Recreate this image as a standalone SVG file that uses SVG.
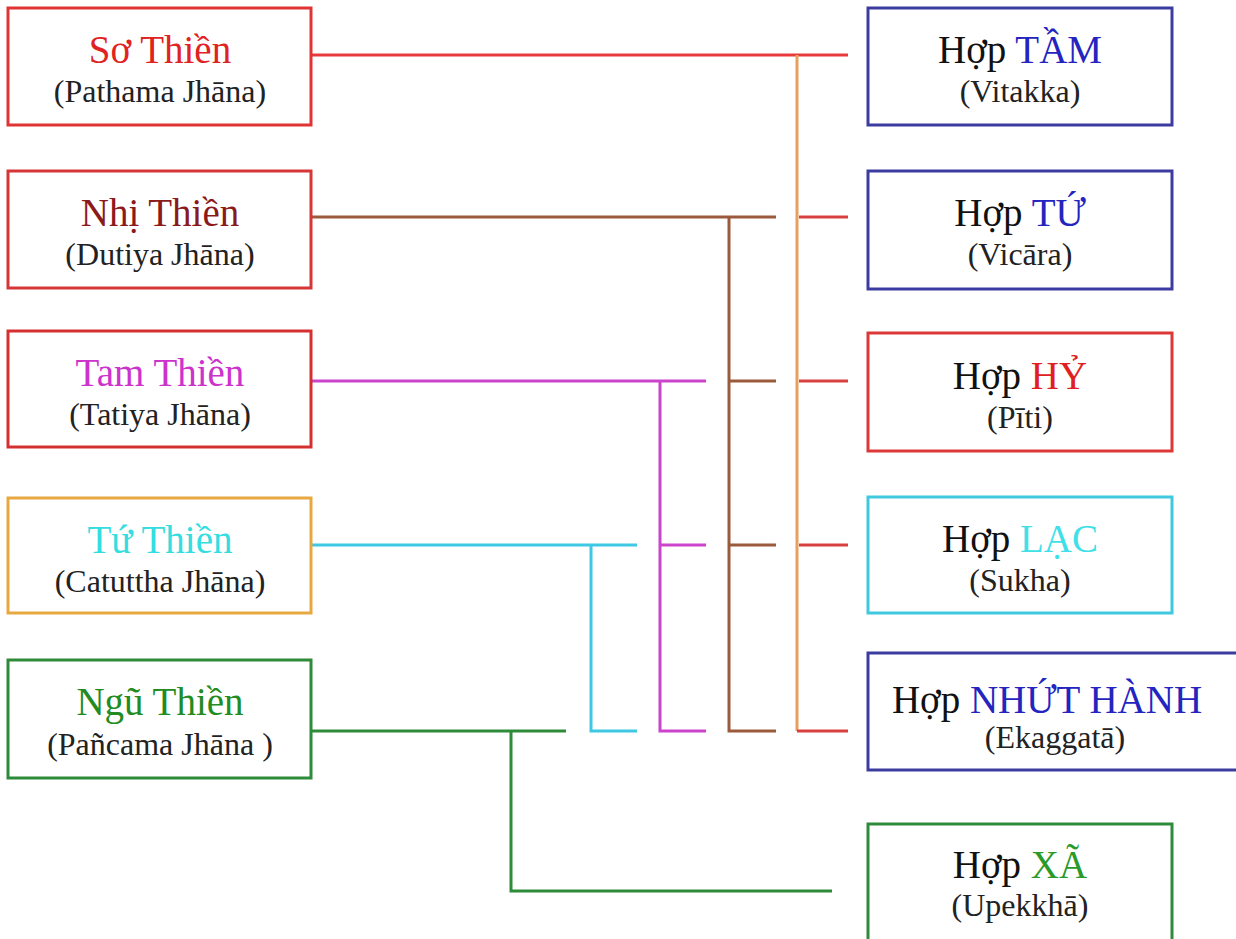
<svg xmlns="http://www.w3.org/2000/svg" width="1236" height="939" viewBox="0 0 1236 939">
<style>
  .box { fill: #ffffff; stroke-width: 3; }
  .t { font-family: "Liberation Serif", "Times New Roman", serif; font-size: 39px; text-anchor: middle; }
  .s { font-family: "Liberation Serif", "Times New Roman", serif; font-size: 32px; text-anchor: middle; fill: #222222; }
  .k { fill: #111111; }
  .ln { fill: none; stroke-width: 3; stroke-linecap: butt; stroke-linejoin: miter; }
</style>
<rect width="1236" height="939" fill="#ffffff"/>

<g id="connectors">
  <!-- Sơ Thiền (red / orange) -->
  <path class="ln" stroke="#e83a3a" d="M311 55 H848"/>
  <path class="ln" stroke="#e8a060" d="M797 55 V731"/>
  <path class="ln" stroke="#d84040" d="M799 217 H848 M799 381 H848 M799 545 H848 M797 731 H848"/>
  <!-- Nhị Thiền (brown) -->
  <path class="ln" stroke="#9b5a3c" d="M311 217 H776 M729 217 V731 H776 M729 381 H776 M729 545 H776"/>
  <!-- Tam Thiền (magenta) -->
  <path class="ln" stroke="#cc44cc" d="M311 381 H706 M660 381 V731 H706 M660 545 H706"/>
  <!-- Tứ Thiền (cyan) -->
  <path class="ln" stroke="#3ec8e4" d="M311 545 H637 M591 545 V731 H637"/>
  <!-- Ngũ Thiền (green) -->
  <path class="ln" stroke="#2e8b3a" d="M311 731 H566 M511 731 V891 H832"/>
</g>

<g id="so-thien">
  <rect class="box" stroke="#e03434" x="8" y="8" width="303" height="117"/>
  <text class="t" x="160" y="63" fill="#e02222">Sơ Thiền</text>
  <text class="s" x="160" y="102">(Pathama Jhāna)</text>
</g>
<g id="nhi-thien">
  <rect class="box" stroke="#d63636" x="8" y="171" width="303" height="117"/>
  <text class="t" x="160" y="226" fill="#8b1a1a">Nhị Thiền</text>
  <text class="s" x="160" y="265">(Dutiya Jhāna)</text>
</g>
<g id="tam-thien">
  <rect class="box" stroke="#d43030" x="8" y="331" width="303" height="116"/>
  <text class="t" x="160" y="386" fill="#cc33cc">Tam Thiền</text>
  <text class="s" x="160" y="425">(Tatiya Jhāna)</text>
</g>
<g id="tu-thien">
  <rect class="box" stroke="#e8a840" x="8" y="498" width="303" height="115"/>
  <text class="t" x="160" y="553" fill="#33dde0">Tứ Thiền</text>
  <text class="s" x="160" y="592">(Catuttha Jhāna)</text>
</g>
<g id="ngu-thien">
  <rect class="box" stroke="#2e8b3a" x="8" y="660" width="303" height="118"/>
  <text class="t" x="160" y="715" fill="#228b22">Ngũ Thiền</text>
  <text class="s" x="160" y="755">(Pañcama Jhāna )</text>
</g>

<g id="hop-tam">
  <rect class="box" stroke="#3c3ca0" x="868" y="8" width="304" height="117"/>
  <text class="t" x="1020" y="63"><tspan class="k">Hợp </tspan><tspan fill="#2424c0">TẦM</tspan></text>
  <text class="s" x="1020" y="102">(Vitakka)</text>
</g>
<g id="hop-tu">
  <rect class="box" stroke="#3c3ca0" x="868" y="171" width="304" height="118"/>
  <text class="t" x="1020" y="226"><tspan class="k">Hợp </tspan><tspan fill="#2424c0">TỨ</tspan></text>
  <text class="s" x="1020" y="265">(Vicāra)</text>
</g>
<g id="hop-hy">
  <rect class="box" stroke="#dc3838" x="868" y="333" width="304" height="118"/>
  <text class="t" x="1020" y="389"><tspan class="k">Hợp </tspan><tspan fill="#e02020">HỶ</tspan></text>
  <text class="s" x="1020" y="428">(Pīti)</text>
</g>
<g id="hop-lac">
  <rect class="box" stroke="#40c8e0" x="868" y="497" width="304" height="116"/>
  <text class="t" x="1020" y="552"><tspan class="k">Hợp </tspan><tspan fill="#40e0e8">LẠC</tspan></text>
  <text class="s" x="1020" y="591">(Sukha)</text>
</g>
<g id="hop-nhut-hanh">
  <rect class="box" stroke="#3c3ca0" x="868" y="653" width="380" height="117"/>
  <text class="t" x="1047" y="713"><tspan class="k">Hợp </tspan><tspan fill="#2424c0">NHỨT HÀNH</tspan></text>
  <text class="s" x="1055" y="748">(Ekaggatā)</text>
</g>
<g id="hop-xa">
  <rect class="box" stroke="#2e8b3a" x="868" y="824" width="304" height="125"/>
  <text class="t" x="1020" y="878"><tspan class="k">Hợp </tspan><tspan fill="#2a9a2a">XÃ</tspan></text>
  <text class="s" x="1020" y="916">(Upekkhā)</text>
</g>
</svg>
